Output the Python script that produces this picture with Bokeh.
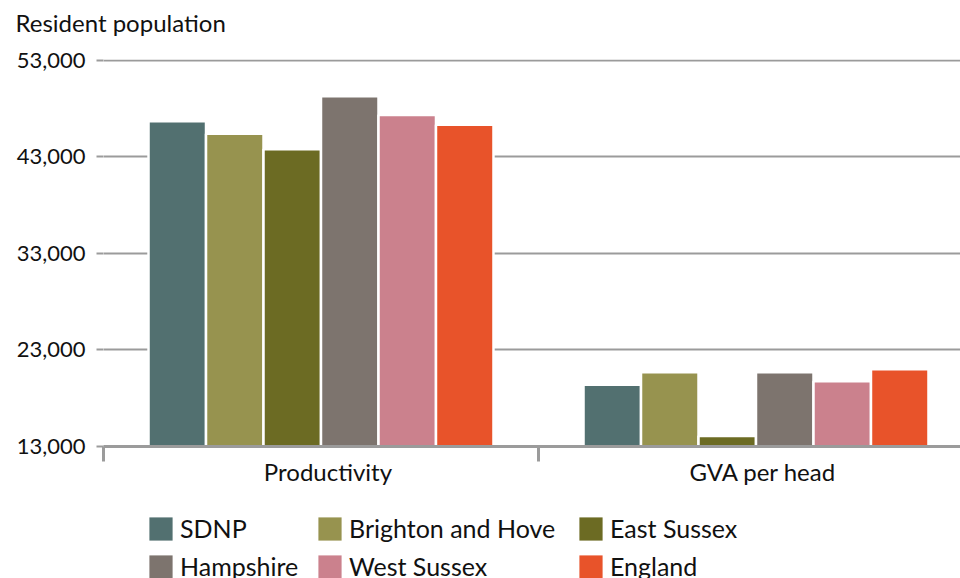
from bokeh.plotting import figure
from bokeh.layouts import column
from bokeh.models import (ColumnDataSource, Range1d, FixedTicker, NumeralTickFormatter,
                          Legend, LegendItem, Title)
from bokeh.transform import dodge
from bokeh.embed import file_html
from bokeh.resources import INLINE

categories = ["Productivity", "GVA per head"]
series = ["SDNP", "Brighton and Hove", "East Sussex", "Hampshire", "West Sussex", "England"]
sdnp = [46700, 19400]
brighton = [45400, 20700]
east_sussex = [43800, 14100]
hampshire = [49300, 20700]
west_sussex = [47350, 19750]
england = [46350, 21000]
y_ticks = [13000, 23000, 33000, 43000, 53000]
colors = ["#527070", "#97934F", "#6C6B23", "#7D746E", "#CB818D", "#E8532A"]

FONT = "Lato"
GRAY = "#9b9b9b"
TXT = "#111111"

values = [sdnp, brighton, east_sussex, hampshire, west_sussex, england]
data = {"x": [i + 0.5 for i in range(len(categories))]}
for name, vals in zip(series, values):
    data[name] = vals
source = ColumnDataSource(data)

p = figure(width=960, height=500, output_backend="svg", toolbar_location=None, title=None,
           x_range=Range1d(0, 857 / 435), y_range=Range1d(y_ticks[0], y_ticks[-1] + 100),
           min_border_left=103, min_border_right=0, min_border_top=58, min_border_bottom=54)
p.outline_line_color = None
p.background_fill_color = "white"
p.border_fill_color = "white"

p.add_layout(Title(text=" ", text_font_size="5px"), "above")
p.add_layout(Title(text="Resident population", text_font=FONT, text_font_size="24px",
                   text_font_style="normal", text_color=TXT, align="left", offset=-88), "above")

n = len(series)
group_w = 0.793
bw = group_w / n
offsets = [(i - (n - 1) / 2) * bw for i in range(n)]
for name, col, off in zip(series, colors, offsets):
    p.vbar(x=dodge("x", off), top=name, bottom=y_ticks[0], width=bw, source=source,
           fill_color=col, line_color="white", line_width=2.5)

# y axis
p.yaxis.ticker = FixedTicker(ticks=y_ticks)
p.yaxis.formatter = NumeralTickFormatter(format="0,0")
p.yaxis.axis_line_color = None
p.yaxis.major_tick_out = 7
p.yaxis.major_tick_in = 0
p.yaxis.major_tick_line_color = GRAY
p.yaxis.major_tick_line_width = 2
p.yaxis.minor_tick_line_color = None
p.yaxis.major_label_text_font = FONT
p.yaxis.major_label_text_font_size = "22px"
p.yaxis.major_label_text_color = TXT
p.yaxis.major_label_standoff = 11

p.ygrid.ticker = FixedTicker(ticks=y_ticks)
p.ygrid.grid_line_color = GRAY
p.ygrid.grid_line_width = 2
p.xgrid.grid_line_color = None

# x axis: labels near group centres, tick marks at group boundaries
label_pos = [x + 0.016 for x in data["x"]]
p.xaxis.ticker = FixedTicker(ticks=label_pos, minor_ticks=[float(i) for i in range(len(categories) + 1)])
p.xaxis.major_label_overrides = {x: c for x, c in zip(label_pos, categories)}
p.xaxis.axis_line_color = GRAY
p.xaxis.axis_line_width = 3
p.xaxis.major_tick_out = 0
p.xaxis.major_tick_in = 0
p.xaxis.minor_tick_out = 15
p.xaxis.minor_tick_in = 0
p.xaxis.minor_tick_line_color = GRAY
p.xaxis.minor_tick_line_width = 3
p.xaxis.major_label_text_font = FONT
p.xaxis.major_label_text_font_size = "24px"
p.xaxis.major_label_text_color = TXT
p.xaxis.major_label_standoff = -5

# legend strip below the chart (swatch renderers sit outside its visible ranges)
lf = figure(width=960, height=78, output_backend="svg", toolbar_location=None,
            x_range=Range1d(-4, -3), y_range=Range1d(60000, 61000),
            x_axis_location=None, y_axis_location=None,
            min_border_left=0, min_border_right=0, min_border_top=0, min_border_bottom=0)
lf.outline_line_color = None
lf.xgrid.grid_line_color = None
lf.ygrid.grid_line_color = None
items = []
for name, col, off in zip(series, colors, offsets):
    r = lf.vbar(x=dodge("x", off), top=name, bottom=y_ticks[0], width=bw, source=source,
                fill_color=col, line_color=None)
    items.append(LegendItem(label=name, renderers=[r]))

# three legend columns, each with two rows
col_x = [43, 212, 473]
for c in range(3):
    lg = Legend(items=[items[c], items[c + 3]], location=(col_x[c], -3), orientation="vertical",
                padding=0, margin=0, spacing=8, glyph_width=29, glyph_height=29,
                label_standoff=5, label_text_font=FONT, label_text_font_size="25px",
                label_text_color=TXT, border_line_color=None, background_fill_alpha=0)
    lf.add_layout(lg, "center")

layout = column(p, lf, spacing=0)
open("out.html", "w").write(file_html(layout, INLINE))
